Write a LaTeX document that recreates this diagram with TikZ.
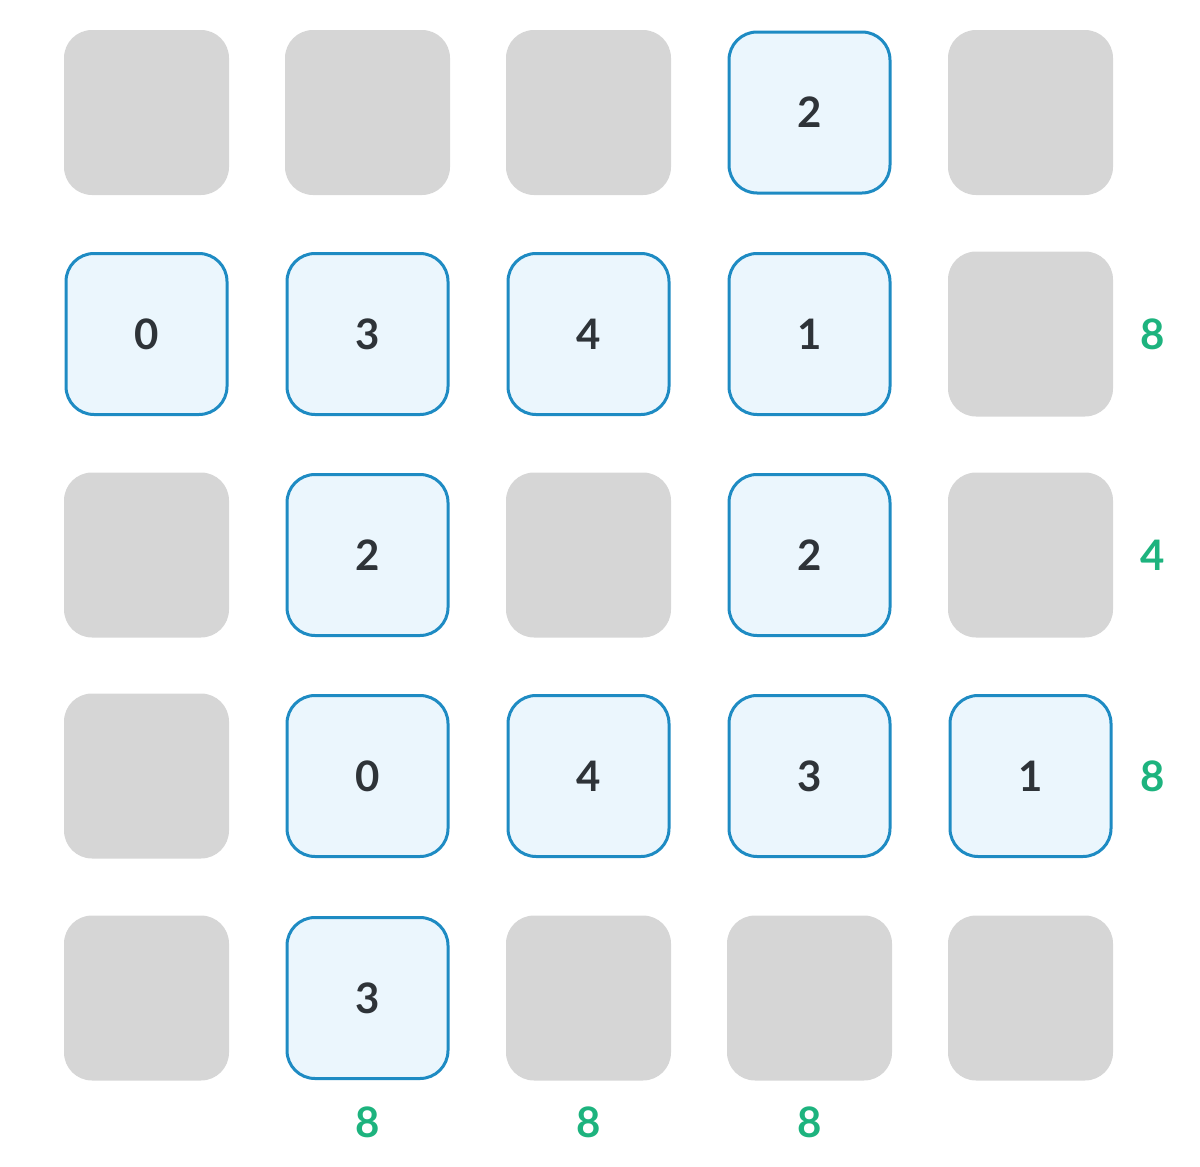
\documentclass[tikz,border=0pt]{standalone}
\usepackage{fontspec}
\setmainfont{Lato}
\definecolor{cellgray}{HTML}{D6D6D6}
\definecolor{cellfill}{HTML}{EBF6FD}
\definecolor{cellborder}{HTML}{1E8BC3}
\definecolor{numtext}{HTML}{2E3338}
\definecolor{sumgreen}{HTML}{1DB37E}
\tikzset{
  emptycell/.style={rectangle, rounded corners=28pt, fill=cellgray, minimum width=165pt, minimum height=165pt, inner sep=0pt},
  numcell/.style={rectangle, rounded corners=28pt, fill=cellfill, draw=cellborder, line width=3pt, minimum width=161pt, minimum height=161pt, inner sep=0pt, font=\bfseries\fontsize{42}{42}\selectfont, text=numtext},
  sumlabel/.style={font=\bfseries\fontsize{42}{42}\selectfont, text=sumgreen, inner sep=0pt}
}
\begin{document}
\begin{tikzpicture}[x=1pt,y=-1pt]
\useasboundingbox (0,0) rectangle (1200,1167);
% row 0
\node[emptycell] (c00) at (146.5,112.5) {};
\node[emptycell] (c01) at (367.5,112.5) {};
\node[emptycell] (c02) at (588.5,112.5) {};
\node[numcell]   (c03) at (809.5,112.5) {2};
\node[emptycell] (c04) at (1030.5,112.5) {};
% row 1
\node[numcell]   (c10) at (146.5,334) {0};
\node[numcell]   (c11) at (367.5,334) {3};
\node[numcell]   (c12) at (588.5,334) {4};
\node[numcell]   (c13) at (809.5,334) {1};
\node[emptycell] (c14) at (1030.5,334) {};
% row 2
\node[emptycell] (c20) at (146.5,555) {};
\node[numcell]   (c21) at (367.5,555) {2};
\node[emptycell] (c22) at (588.5,555) {};
\node[numcell]   (c23) at (809.5,555) {2};
\node[emptycell] (c24) at (1030.5,555) {};
% row 3
\node[emptycell] (c30) at (146.5,776) {};
\node[numcell]   (c31) at (367.5,776) {0};
\node[numcell]   (c32) at (588.5,776) {4};
\node[numcell]   (c33) at (809.5,776) {3};
\node[numcell]   (c34) at (1030.5,776) {1};
% row 4
\node[emptycell] (c40) at (146.5,998) {};
\node[numcell]   (c41) at (367.5,998) {3};
\node[emptycell] (c42) at (588.5,998) {};
\node[emptycell] (c43) at (809.5,998) {};
\node[emptycell] (c44) at (1030.5,998) {};
% sums
\node[sumlabel] (r1) at (1153,334) {8};
\node[sumlabel] (r2) at (1153,555) {4};
\node[sumlabel] (r3) at (1153,776) {8};
\node[sumlabel] (b1) at (367.5,1122) {8};
\node[sumlabel] (b2) at (588.5,1122) {8};
\node[sumlabel] (b3) at (809.5,1122) {8};
\end{tikzpicture}
\end{document}
